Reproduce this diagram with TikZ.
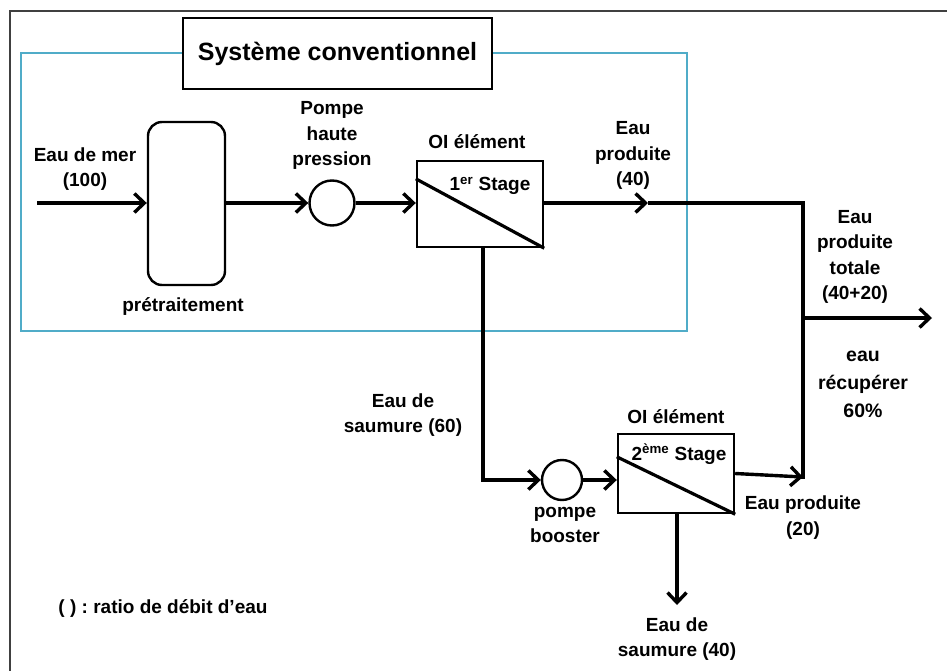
\documentclass[tikz,border=0pt]{standalone}
\usepackage{fontspec}
\setmainfont{Liberation Sans}
\usetikzlibrary{arrows.meta}
\definecolor{frameblue}{RGB}{80,172,200}
\frenchspacing
\tikzset{
  lbl/.style={font=\bfseries\fontsize{19}{25.5}\selectfont, align=center, inner sep=0pt},
  flow/.style={line width=3.4pt, -{Straight Barb[length=10pt,width=19pt,line width=3.4pt]}},
  pipe/.style={line width=3.4pt},
  unit/.style={draw, line width=2.4pt, inner sep=0pt},
  membrane/.style={line width=3.2pt},
}
\begin{document}
\begin{tikzpicture}[x=1pt,y=-1pt]
\useasboundingbox (0,0) rectangle (947,671);
% outer frame
\draw[line width=1.4pt, black!75] (10,671) -- (10,11) -- (947,11);
% blue group box
\draw[line width=2.8pt, frameblue] (21,53) rectangle (687,331);
\node[draw, line width=2.2pt, fill=white, minimum width=309pt, minimum height=71pt,
  font=\bfseries\fontsize{25}{28}\selectfont] (title) at (337.5,53.5) {Système conventionnel};

% units
\node[unit, rounded corners=14pt, minimum width=77pt, minimum height=163pt] (pre) at (186.5,203.5) {};
\node[unit, circle, minimum size=45pt] (hp) at (332,203) {};
\node[unit, rectangle, minimum width=126pt, minimum height=86pt] (oi1) at (480,204) {};
\draw[membrane] ([yshift=-19pt]oi1.north west) -- (oi1.south east);
\node[unit, circle, minimum size=40pt] (bp) at (562,480) {};
\node[unit, rectangle, minimum width=116pt, minimum height=79pt] (oi2) at (676,473.5) {};
\draw[membrane] ([yshift=-24pt]oi2.north west) -- (oi2.south east);

% coordinates
\coordinate (in) at (37,203);
\coordinate (p1) at (648,203);
\coordinate (j1) at (803,203);
\coordinate (j2) at (803,477);
\coordinate (jt) at (803,318);
\coordinate (out) at (932,318);
\coordinate (bc) at (483,480);
\coordinate (br) at (677,605);

% connectors
\draw[flow] (in) -- (pre.west |- in);
\draw[flow] (pre.east |- hp) -- (hp.west);
\draw[flow] (hp.east) -- (oi1.west |- hp);
\draw[flow] (oi1.east |- p1) -- (p1);
\draw[pipe, line join=miter] (p1) -- (j1) -- ([yshift=-1.7pt]j2);
\draw[flow] (jt) -- (out);
\draw[flow] (oi2.east) -- (j2);
\draw[flow, line join=miter] (oi1.south -| bc) -- (bc) -- (bp.west);
\draw[flow] (bp.east) -- (oi2.west |- bp);
\draw[flow] (oi2.south -| br) -- (br);

% labels
\node[lbl] (lsea) at (85,169) {Eau de mer\\(100)};
\node[lbl] (lpre) at (183,307) {prétraitement};
\node[lbl] (lhp) at (332,135.5) {Pompe\\haute\\pression};
\node[lbl] (loi1) at (477,142) {OI élément};
\node[lbl] (lst1) at (490,186) {1\textsuperscript{er} Stage};
\node[lbl] (lp1) at (633,155.5) {Eau\\produite\\(40)};
\node[lbl] (ltot) at (855,257) {Eau\\produite\\totale\\(40+20)};
\node[lbl, font=\bfseries\fontsize{19.5}{28}\selectfont] (lrec) at (863,384) {eau\\récupérer\\60\%};
\node[lbl] (lbr1) at (403,415) {Eau de\\saumure (60)};
\node[lbl] (loi2) at (676,417) {OI élément};
\node[lbl] (lst2) at (679,454) {2\textsuperscript{ème} Stage};
\node[lbl] (lbp) at (565,525) {pompe\\booster};
\node[lbl] (lp2) at (803,517.5) {Eau produite\\(20)};
\node[lbl] (lbr2) at (677,639) {Eau de\\saumure (40)};
\node[lbl] (leg) at (163,608) {( ) : ratio de débit d'eau};
\end{tikzpicture}
\end{document}
